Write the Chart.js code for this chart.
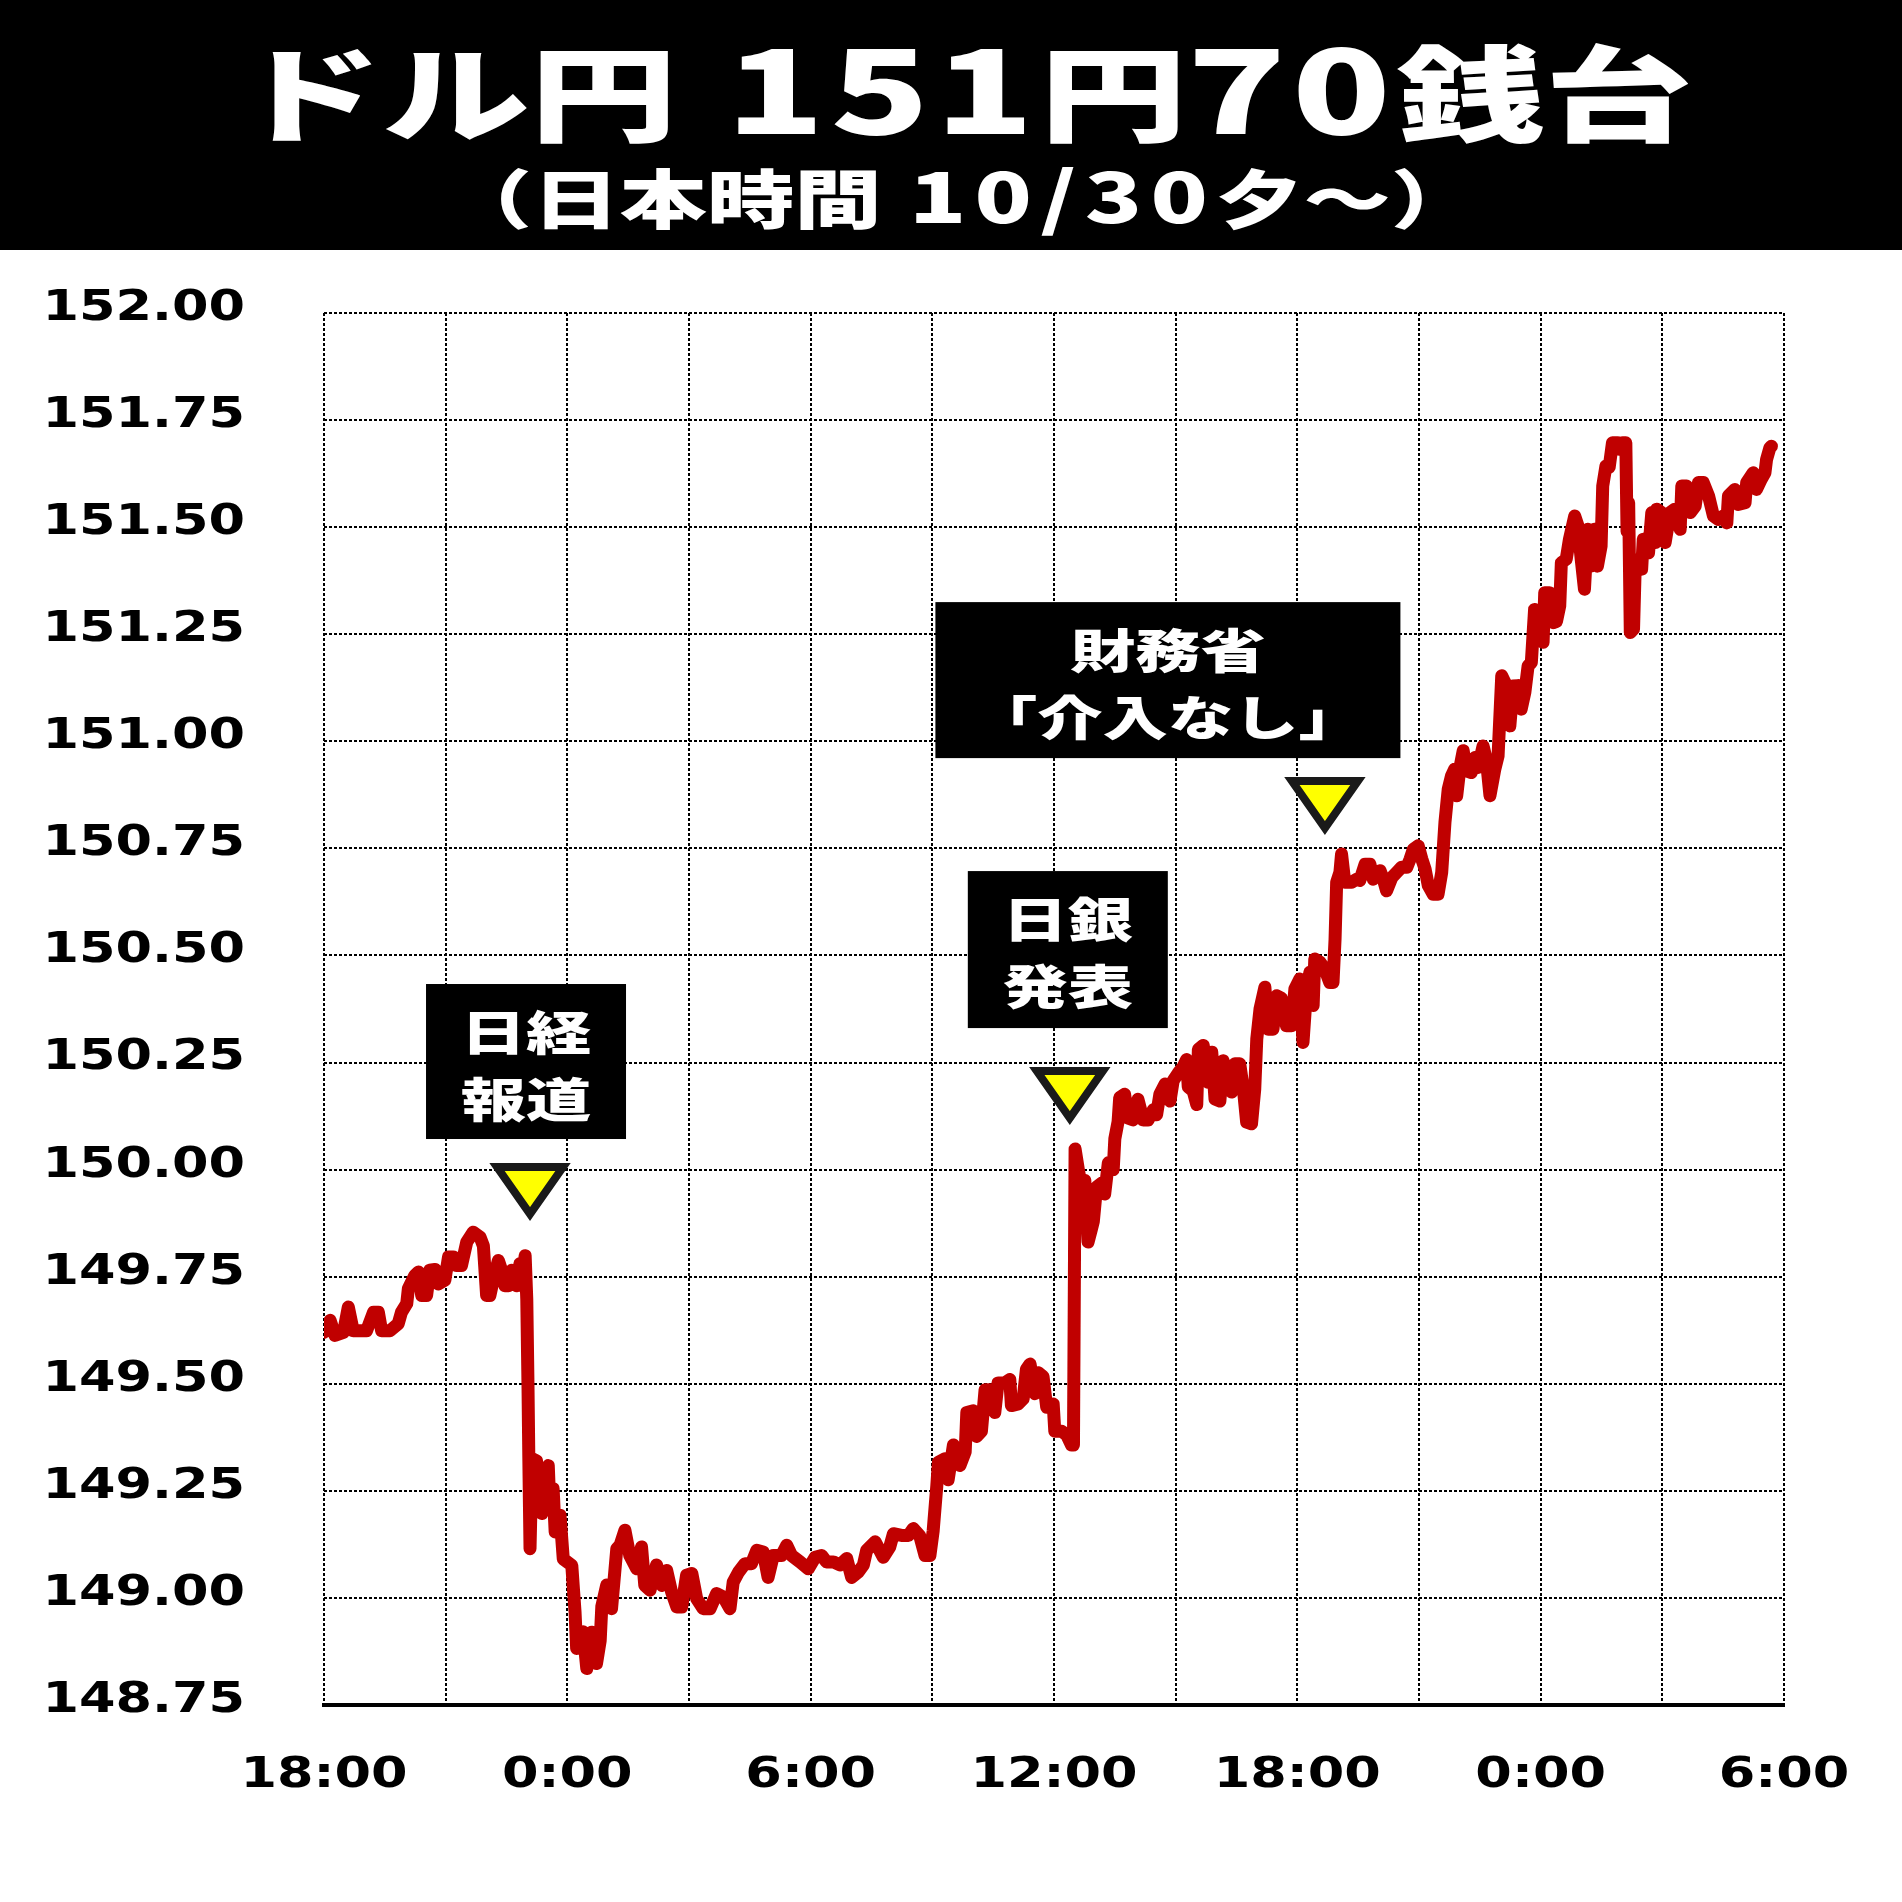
<!DOCTYPE html>
<html lang="ja">
<head>
<meta charset="utf-8">
<script src="https://cdn.jsdelivr.net/npm/chart.js@4.4.1/dist/chart.umd.min.js"></script>
<style>
html,body{margin:0;padding:0;background:#fff;}
body{width:1902px;height:1902px;position:relative;overflow:hidden;}
#header{position:absolute;left:0;top:0;width:1902px;height:250px;background:#000;z-index:2;}
.hl{position:absolute;left:0;width:1902px;text-align:center;color:#fff;font-family:"Noto Sans CJK JP","Noto Sans CJK SC",sans-serif;font-weight:900;white-space:nowrap;}
.hl .inner{display:inline-block;transform-origin:50% 50%;}
#title{top:32px;font-size:104px;line-height:104px;}
#title .inner{transform:translateX(12px) scaleX(1.42);}
#sub{top:161px;font-size:64px;line-height:64px;}
#sub .inner{transform:translateX(10px) scaleX(1.365);}
#title .num{font-size:1.1em;letter-spacing:4px;}
#sub .num{font-size:1.08em;letter-spacing:6px;}
.gap1{display:inline-block;width:34px;}
.gap2{display:inline-block;width:20px;}
#wrap{position:absolute;left:0;top:0;width:1902px;height:1902px;z-index:1;}
</style>
</head>
<body>
<div id="header">
  <div class="hl" id="title"><span class="inner">ドル円<span class="gap1"> </span><span class="num">151</span>円<span class="num">70</span>銭台</span></div>
  <div class="hl" id="sub"><span class="inner">（日本時間<span class="gap2"> </span><span class="num">10/30</span>夕～）</span></div>
</div>
<div id="wrap"><canvas id="c" width="1902" height="1902"></canvas></div>
<script>
// ---- data (hours elapsed since 18:00 on 10/30, USD/JPY) ----
const times = [
0.00,0.15,0.27,0.48,0.60,0.72,1.05,1.22,1.34,1.42,1.63,1.83,1.91,2.04,2.08,2.24,2.33,2.41,2.53,2.61,
2.74,2.82,2.98,3.07,3.19,3.27,3.39,3.52,3.68,3.85,3.93,4.01,4.09,4.18,4.30,4.38,4.46,4.55,4.63,4.71,
4.75,4.83,4.87,4.96,5.00,5.03,5.05,5.08,5.13,5.24,5.37,5.53,5.57,5.65,5.70,5.82,5.90,6.11,6.19,6.23,
6.39,6.48,6.60,6.72,6.81,6.85,6.97,7.09,7.22,7.30,7.42,7.54,7.71,7.83,7.91,8.04,8.20,8.33,8.45,8.57,
8.70,8.82,8.94,9.07,9.19,9.35,9.52,9.68,9.85,10.01,10.09,10.22,10.38,10.54,10.67,10.83,10.95,11.08,11.28,11.41,
11.53,11.74,11.94,12.11,12.27,12.39,12.56,12.72,12.89,13.01,13.17,13.30,13.38,13.59,13.79,13.95,14.04,14.24,14.41,14.53,
14.69,14.82,14.94,15.02,15.11,15.15,15.31,15.39,15.52,15.68,15.81,15.85,16.01,16.09,16.21,16.30,16.42,16.54,16.62,16.79,
16.91,16.95,17.12,17.24,17.32,17.41,17.53,17.61,17.73,17.82,17.98,18.02,18.19,18.31,18.43,18.48,18.52,18.60,18.66,18.76,
18.84,18.92,18.97,19.05,19.17,19.25,19.34,19.46,19.50,19.58,19.62,19.74,19.83,19.95,20.07,20.20,20.32,20.45,20.53,20.61,
20.74,20.86,20.94,21.06,21.19,21.27,21.31,21.43,21.52,21.56,21.68,21.80,21.89,21.97,22.09,22.17,22.30,22.38,22.46,22.58,
22.67,22.75,22.87,22.95,23.00,23.08,23.20,23.28,23.40,23.49,23.61,23.73,23.86,23.94,24.06,24.14,24.23,24.31,24.39,24.43,
24.56,24.68,24.80,24.88,24.93,24.97,25.05,25.09,25.17,25.34,25.46,25.54,25.67,25.79,25.87,26.04,26.12,26.20,26.33,26.45,
26.57,26.70,26.78,26.86,26.98,27.07,27.15,27.23,27.35,27.47,27.56,27.64,27.72,27.80,27.88,27.93,28.01,28.09,28.17,28.29,
28.38,28.46,28.58,28.66,28.75,28.87,28.95,29.04,29.16,29.24,29.32,29.44,29.52,29.61,29.69,29.77,29.81,29.85,29.98,30.06,
30.10,30.22,30.31,30.39,30.47,30.51,30.63,30.71,30.84,30.92,31.00,31.08,31.16,31.24,31.32,31.40,31.49,31.53,31.61,31.69,
31.77,31.90,31.94,32.02,32.10,32.13,32.17,32.21,32.29,32.33,32.41,32.49,32.53,32.66,32.74,32.82,32.86,32.98,33.07,33.19,
33.31,33.44,33.48,33.60,33.69,33.81,33.89,34.01,34.14,34.26,34.38,34.50,34.59,34.63,34.79,34.87,35.04,35.08,35.24,35.32,
35.44,35.53,35.57,35.65,35.69
];
const prices = [
149.620,149.648,149.613,149.620,149.679,149.624,149.624,149.667,149.667,149.624,149.624,149.640,149.667,149.687,149.722,149.753,149.761,149.706,149.706,149.765,
149.767,149.733,149.742,149.796,149.796,149.776,149.776,149.831,149.854,149.842,149.822,149.706,149.706,149.745,149.788,149.765,149.729,149.729,149.765,149.745,
149.729,149.780,149.729,149.799,149.698,149.496,149.330,149.115,149.325,149.320,149.197,149.309,149.210,149.255,149.154,149.193,149.091,149.076,148.967,148.882,
148.921,148.835,148.920,148.847,148.900,148.980,149.030,148.975,149.115,149.123,149.158,149.099,149.068,149.119,149.029,149.018,149.077,149.029,149.064,149.014,
148.979,148.979,149.053,149.057,148.998,148.975,148.975,149.010,149.002,148.975,149.037,149.060,149.080,149.080,149.111,149.107,149.048,149.099,149.099,149.123,
149.099,149.084,149.068,149.095,149.099,149.084,149.084,149.077,149.092,149.048,149.060,149.077,149.111,149.131,149.095,149.119,149.150,149.146,149.146,149.162,
149.145,149.099,149.099,149.156,149.261,149.317,149.325,149.276,149.357,149.309,149.341,149.433,149.437,149.377,149.389,149.486,149.486,149.433,149.502,149.502,
149.510,149.449,149.453,149.465,149.534,149.546,149.477,149.526,149.517,149.445,149.453,149.389,149.389,149.381,149.357,149.357,150.048,150.000,149.968,149.975,
149.831,149.860,149.879,149.959,149.968,149.943,150.016,150.000,150.072,150.112,150.168,150.176,150.120,150.116,150.164,150.116,150.116,150.140,150.128,150.176,
150.200,150.160,150.208,150.225,150.241,150.257,150.193,150.184,150.152,150.281,150.290,150.204,150.274,150.165,150.160,150.254,150.219,150.181,150.247,150.247,
150.188,150.111,150.107,150.188,150.305,150.375,150.426,150.328,150.328,150.406,150.400,150.336,150.336,150.422,150.445,150.297,150.422,150.461,150.383,150.492,
150.484,150.468,150.437,150.437,150.538,150.671,150.694,150.737,150.671,150.671,150.678,150.675,150.713,150.713,150.678,150.698,150.678,150.651,150.682,150.694,
150.706,150.706,150.725,150.748,150.756,150.725,150.702,150.663,150.643,150.643,150.694,150.811,150.888,150.919,150.935,150.873,150.939,150.978,150.931,150.927,
150.962,150.939,150.989,150.958,150.873,150.935,150.966,151.153,151.129,151.036,151.129,151.130,151.075,151.114,151.176,151.184,151.246,151.308,151.300,151.231,
151.347,151.347,151.277,151.280,151.316,151.417,151.425,151.472,151.526,151.503,151.425,151.355,151.495,151.409,151.495,151.409,151.456,151.596,151.643,151.640,
151.697,151.697,151.682,151.697,151.697,151.490,151.557,151.254,151.262,151.402,151.425,151.402,151.472,151.440,151.534,151.464,151.542,151.534,151.464,151.534,
151.542,151.495,151.596,151.596,151.534,151.549,151.604,151.604,151.573,151.526,151.518,151.526,151.510,151.573,151.588,151.553,151.557,151.604,151.627,151.588,
151.612,151.627,151.658,151.685,151.689
];
// axis ticks
const xGridHours = [0,3,6,9,12,15,18,21,24,27,30,33,36];
const xTickLabels = ['18:00','0:00','6:00','12:00','18:00','0:00','6:00']; // every 6 hours
const yTicks = [148.75,149.00,149.25,149.50,149.75,150.00,150.25,150.50,150.75,151.00,151.25,151.50,151.75,152.00];
// event callouts (time, price at marker tip, text)
const eventTimes = [5.08, 18.39, 24.68];
const eventValues = [149.887, 150.111, 150.788];
const eventLabels = [['日経','報道'], ['日銀','発表'], ['財務省','「介入なし」']];

// ---- styling / layout (not data) ----
const calloutLayout = [
  {dx: -4, gap: 79, w: 200, h: 155},
  {dx: -2, gap: 94, w: 200, h: 157},
  {dx: -157, gap: 74, w: 465, h: 156}
];

const points = times.map((t, i) => ({x: t, y: prices[i]}));

// horizontally stretched tick lettering (as in the original artwork)
const tickStretch = {
  id: 'tickStretch',
  beforeDraw(chart) {
    const ctx = chart.ctx;
    if (!ctx._origFillText) ctx._origFillText = ctx.fillText;
    const orig = ctx._origFillText;
    ctx.fillText = function (text, x, y) {
      this.save();
      this.translate(x, y);
      this.scale(1.25, 1);
      orig.call(this, text, 0, 0);
      this.restore();
    };
  },
  beforeDatasetsDraw(chart) {
    const ctx = chart.ctx;
    if (ctx._origFillText) ctx.fillText = ctx._origFillText;
  }
};

const callouts = {
  id: 'callouts',
  afterDatasetsDraw(chart) {
    const ctx = chart.ctx;
    const xs = chart.scales.x, ys = chart.scales.y;
    eventTimes.forEach((t, i) => {
      const px = xs.getPixelForValue(t);
      const py = ys.getPixelForValue(eventValues[i]);
      const L = calloutLayout[i];
      ctx.save();
      // marker triangle
      ctx.beginPath();
      ctx.moveTo(px - 33, py - 51);
      ctx.lineTo(px + 33, py - 51);
      ctx.lineTo(px, py - 4);
      ctx.closePath();
      ctx.fillStyle = '#FFFF00';
      ctx.fill();
      ctx.lineWidth = 8;
      ctx.lineJoin = 'miter';
      ctx.strokeStyle = '#1a1a1a';
      ctx.stroke();
      // box
      const cx = px + L.dx;
      const top = py - L.gap - L.h;
      ctx.fillStyle = '#000';
      ctx.fillRect(cx - L.w / 2, top, L.w, L.h);
      ctx.fillStyle = '#fff';
      ctx.font = '900 47px "Noto Sans CJK JP"';
      ctx.textAlign = 'center';
      ctx.textBaseline = 'middle';
      eventLabels[i].forEach((line, j) => {
        ctx.save();
        ctx.translate(cx, top + 46 + j * 67);
        ctx.scale(1.39, 1);
        ctx.fillText(line, 0, 2);
        ctx.restore();
      });
      ctx.restore();
    });
  }
};

const tickFont = {family: 'DejaVu Sans', weight: 'bold', size: 42};

new Chart(document.getElementById('c'), {
  type: 'line',
  data: {
    datasets: [{
      data: points,
      borderColor: '#C00000',
      borderWidth: 13,
      pointRadius: 0,
      tension: 0,
      fill: false,
      borderJoinStyle: 'round',
      borderCapStyle: 'round'
    }]
  },
  options: {
    responsive: false,
    animation: false,
    devicePixelRatio: 1,
    parsing: false,
    layout: {padding: {top: 313, right: 118, left: 0, bottom: 0}},
    plugins: {legend: {display: false}, tooltip: {enabled: false}},
    scales: {
      x: {
        type: 'linear',
        min: 0, max: 36,
        afterBuildTicks: s => { s.ticks = xGridHours.map(v => ({value: v})); },
        afterFit: s => { s.height = 197; },
        ticks: {
          autoSkip: false, maxRotation: 0, minRotation: 0,
          padding: 46, color: '#000', font: tickFont,
          callback: v => (v % 6 === 0 ? xTickLabels[v / 6] : '')
        },
        grid: {color: '#000', lineWidth: 2, drawTicks: false},
        border: {display: true, color: '#000', width: 4, dash: [3, 2]}
      },
      y: {
        type: 'linear',
        min: 148.75, max: 152,
        afterBuildTicks: s => { s.ticks = yTicks.map(v => ({value: v})); },
        afterFit: s => { s.width = 324; },
        ticks: {
          padding: 79, color: '#000', font: tickFont, labelOffset: -4,
          callback: v => Number(v).toFixed(2)
        },
        grid: {color: '#000', lineWidth: 2, drawTicks: false},
        border: {display: false, dash: [3, 2]}
      }
    }
  },
  plugins: [tickStretch, callouts]
});
</script>
</body>
</html>
